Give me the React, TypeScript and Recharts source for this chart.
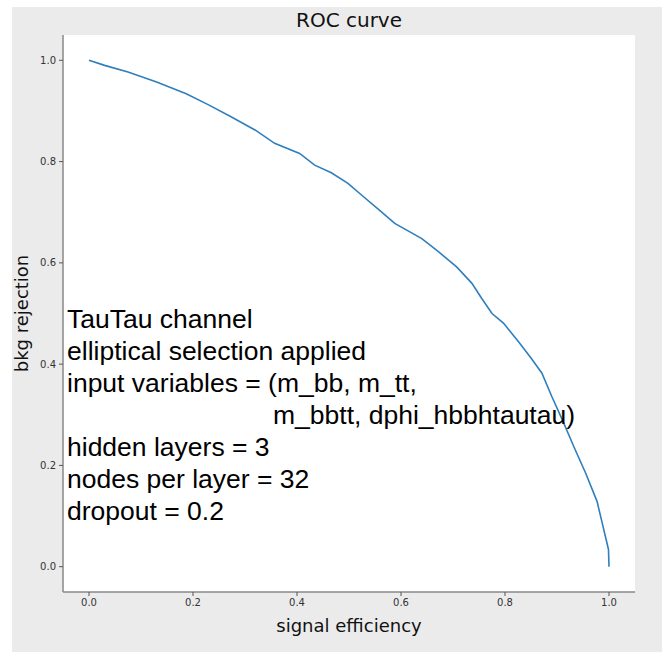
import { CartesianGrid, Label, Line, LineChart, XAxis, YAxis } from "recharts";

// ROC curve
const signalEfficiency = [
    0.0, 0.03, 0.075, 0.13, 0.187, 0.23, 0.274, 0.32, 0.357, 0.405, 0.434, 0.466, 0.498, 0.524, 0.555, 0.588,
    0.64, 0.672, 0.707, 0.736, 0.755, 0.775, 0.797, 0.826, 0.85, 0.871, 0.89, 0.909, 0.935, 0.955, 0.977, 0.987,
    0.993, 0.999, 1.0
];
const bkgRejection = [
    1.0, 0.99, 0.977, 0.957, 0.934, 0.912, 0.888, 0.862, 0.836, 0.816, 0.793, 0.778, 0.757, 0.734, 0.707, 0.678,
    0.648, 0.622, 0.592, 0.56, 0.53, 0.5, 0.481, 0.444, 0.412, 0.382, 0.336, 0.293, 0.231, 0.185, 0.129, 0.086,
    0.06, 0.034, 0.0
];
const axisTicks = [0, 0.2, 0.4, 0.6, 0.8, 1.0];
const notes = [
    "TauTau channel",
    "elliptical selection applied",
    "input variables = (m_bb, m_tt,",
    "m_bbtt, dphi_hbbhtautau)",
    "hidden layers = 3",
    "nodes per layer = 32",
    "dropout = 0.2"
];

const rocData = signalEfficiency.map((x, i) => ({ x, y: bkgRejection[i] }));

const mplFont = "'DejaVu Sans', sans-serif";
const tickStyle = { fontSize: 10, fill: "#333", fontFamily: mplFont };
const frame = { stroke: "#888", strokeWidth: 1.5 };

export default function App() {
    return (
        <div style={{ position: "absolute", left: 0, top: 0, width: 662, height: 652, background: "#fff" }}>
            <LineChart
                width={650}
                height={645}
                data={rocData}
                margin={{ top: 28, right: 27, left: 0, bottom: 0 }}
                style={{ position: "absolute", left: 12, top: 7, background: "#ebebeb" }}
            >
                <CartesianGrid horizontal={false} vertical={false} fill="#fff" />
                <XAxis
                    dataKey="x"
                    type="number"
                    domain={[-0.05, 1.05]}
                    ticks={axisTicks}
                    tickFormatter={(v: number) => v.toFixed(1)}
                    height={60}
                    tick={tickStyle}
                    tickSize={4}
                    tickMargin={3}
                    tickLine={{ stroke: "#555" }}
                    axisLine={frame}
                >
                    <Label
                        value="signal efficiency"
                        position="insideBottom"
                        offset={20}
                        style={{ fontSize: 18, fill: "#111", fontFamily: mplFont }}
                    />
                </XAxis>
                <XAxis
                    xAxisId="top"
                    orientation="top"
                    dataKey="x"
                    type="number"
                    domain={[-0.05, 1.05]}
                    height={0}
                    tick={false}
                    tickLine={false}
                    axisLine={frame}
                />
                <YAxis
                    type="number"
                    domain={[-0.05, 1.05]}
                    ticks={axisTicks}
                    tickFormatter={(v: number) => v.toFixed(1)}
                    width={51}
                    tick={tickStyle}
                    tickSize={4}
                    tickMargin={3}
                    tickLine={{ stroke: "#555" }}
                    axisLine={frame}
                >
                    <Label
                        value="bkg rejection"
                        angle={-90}
                        position="insideLeft"
                        offset={10}
                        style={{ fontSize: 18, fill: "#111", fontFamily: mplFont, textAnchor: "middle" }}
                    />
                </YAxis>
                <YAxis
                    yAxisId="right"
                    orientation="right"
                    type="number"
                    domain={[-0.05, 1.05]}
                    width={0}
                    tick={false}
                    tickLine={false}
                    axisLine={frame}
                />
                <Line
                    type="linear"
                    dataKey="y"
                    stroke="#2f7fbd"
                    strokeWidth={1.6}
                    dot={false}
                    isAnimationActive={false}
                />
            </LineChart>
            <div
                style={{
                    position: "absolute",
                    left: 63,
                    width: 572,
                    top: 6,
                    textAlign: "center",
                    fontFamily: mplFont,
                    fontSize: 20,
                    lineHeight: "28px",
                    color: "#111"
                }}
            >
                ROC curve
            </div>
            <div
                style={{
                    position: "absolute",
                    left: 67,
                    top: 303,
                    fontFamily: "'Liberation Sans', Arial, sans-serif",
                    fontSize: 26.5,
                    lineHeight: "32px",
                    color: "#000",
                    whiteSpace: "nowrap"
                }}
            >
                {notes.map((line, i) => (
                    <div key={i} style={{ paddingLeft: i === 3 ? 206 : 0 }}>
                        {line}
                    </div>
                ))}
            </div>
        </div>
    );
}
